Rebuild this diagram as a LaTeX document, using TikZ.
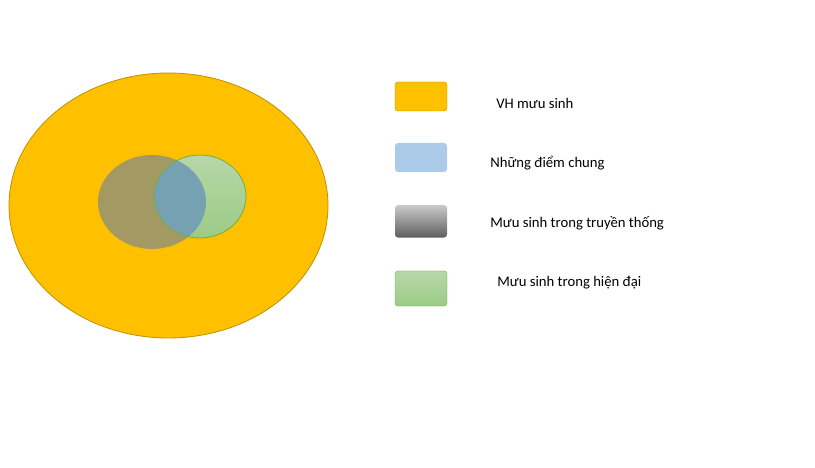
\documentclass[tikz,border=0pt]{standalone}
\usepackage{fontspec}
\setmainfont{Carlito}
\usetikzlibrary{positioning}
\definecolor{vhorange}{HTML}{FFC000}
\definecolor{vhorangeline}{HTML}{BF9000}
\definecolor{olive}{HTML}{A29A62}
\definecolor{chungblue}{HTML}{ACCBE9}
\definecolor{mixblue}{HTML}{76A1B2}
\definecolor{hdgreen}{HTML}{70AD47}
\definecolor{hdlight}{HTML}{B7D7A8}
\definecolor{hddark}{HTML}{9CCB86}
\definecolor{tdlight}{HTML}{CACACA}
\definecolor{tddark}{HTML}{5E5E5E}

\tikzset{
    keybox/.style={rounded corners=3pt, minimum width=52pt, minimum height=29pt, inner sep=0pt},
    keytext/.style={anchor=west, inner sep=0pt, font=\fontsize{14.7}{17}\selectfont}
}

\begin{document}
\begin{tikzpicture}[x=1pt,y=-1pt]
    \useasboundingbox (0,0) rectangle (815,468);
    %% venn
    \filldraw[fill=vhorange, draw=vhorangeline, line width=0.8pt] (168.5,205.5) ellipse [x radius=159.5, y radius=132.5];
    \fill[olive] (152,202) ellipse [x radius=54, y radius=47];
    \shade[top color=hdlight, bottom color=hddark] (200,196.5) ellipse [x radius=46, y radius=41.5];
    % vung chung
    \begin{scope}
        \clip (152,202) ellipse [x radius=54, y radius=47];
        \fill[mixblue] (200,196.5) ellipse [x radius=46, y radius=41.5];
    \end{scope}
    \draw[hdgreen, line width=0.8pt] (200,196.5) ellipse [x radius=46, y radius=41.5];
    %% chu thich
    \node[keybox, fill=vhorange, draw=vhorangeline] (k1) at (421,96.5) {};
    \node[keybox, fill=chungblue] (k2) at (421,157.5) {};
    \node[keybox, minimum height=32.5pt, top color=tdlight, bottom color=tddark] (k3) at (421,221.3) {};
    \node[keybox, minimum height=35pt, top color=hdlight, bottom color=hddark, draw=hdgreen] (k4) at (421,288.5) {};
    \node[keytext, right = 49pt of k1, yshift=-6.5pt] (t1) {VH mưu sinh};
    \node[keytext, right = 43pt of k2, yshift=-5.5pt] (t2) {Những điểm chung};
    \node[keytext, right = 43pt of k3, yshift=-1.7pt] (t3) {Mưu sinh trong truyền thống};
    \node[keytext, right = 50pt of k4, yshift=5.5pt] (t4) {Mưu sinh trong hiện đại};
\end{tikzpicture}
\end{document}
